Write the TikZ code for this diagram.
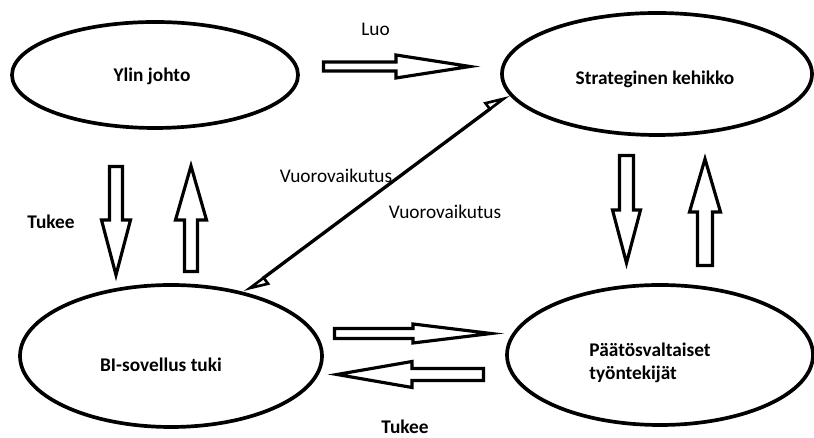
\documentclass[tikz,border=0pt]{standalone}
\usepackage{fontspec}
\setmainfont{Carlito}
\usetikzlibrary{shapes.geometric}
\usetikzlibrary{arrows.meta}

\tikzset{
	kupla/.style={ellipse, draw, line width=2.1pt, inner sep=0pt},
	nuoli/.style={draw, fill=white, line width=1.8pt, line join=miter},
	harppuuna/.tip={Triangle[open, left, length=0.44cm, width=0.36cm, fill=white, line width=1.5pt]},
	vuoro/.style={line width=1.9pt, harppuuna-harppuuna}
}

\begin{document}
\fontsize{11}{13}\selectfont
\begin{tikzpicture}
	\useasboundingbox (0,0) rectangle (16.28,8.76);
	
	%ellipses
	\node[kupla, minimum width=5.72cm, minimum height=2.12cm] (ylin_node) at (3.10,7.26) {};
	\node[kupla, minimum width=6.20cm, minimum height=2.44cm] (strat_node) at (13.14,7.28) {};
	\node[kupla, minimum width=6.04cm, minimum height=2.84cm] (bi_node) at (3.42,1.64) {};
	\node[kupla, minimum width=6.12cm, minimum height=2.80cm] (paatos_node) at (13.20,1.66) {};
	
	%ellipse texts
	\node (ylin_text) at (3.04,7.24) {\textbf{Ylin johto}};
	\node (strat_text) at (13.10,7.18) {\textbf{Strateginen kehikko}};
	\node (bi_text) at (3.22,1.46) {\textbf{BI-sovellus tuki}};
	\node[align=left] (paatos_text) at (13.00,1.50) {\textbf{Päätösvaltaiset}\\\textbf{työntekijät}};
	
	%block arrows: tail x/tail y/angle/length/head length/shaft half/head half
	\foreach \x/\y/\a/\len/\hl/\sw/\hw in {
		6.47/7.43/0/2.93/1.48/0.09/0.23,
		2.32/5.43/-90/2.17/1.10/0.13/0.29,
		3.82/3.33/90/2.11/1.08/0.13/0.31,
		12.53/5.65/-90/2.15/1.06/0.14/0.28,
		14.10/3.45/90/2.13/1.06/0.15/0.31,
		6.69/2.09/0/3.13/1.56/0.10/0.19,
		9.67/1.27/180/2.93/1.50/0.12/0.26} {
		\filldraw[nuoli, shift={(\x,\y)}, rotate=\a] (0,-\sw) -- (\len-\hl,-\sw) -- (\len-\hl,-\hw) -- (\len,0)
			-- (\len-\hl,\hw) -- (\len-\hl,\sw) -- (0,\sw) -- cycle;
	}
	
	%interaction line
	\draw[vuoro] (bi_node.41) -- (strat_node.188);
	
	%descriptions
	\node (luo_label) at (7.51,8.18) {Luo};
	\node (tukee_left) at (1.02,4.33) {\textbf{Tukee}};
	\node (vuoro_one) at (6.72,5.25) {Vuorovaikutus};
	\node (vuoro_two) at (8.90,4.52) {Vuorovaikutus};
	\node[anchor=base] (tukee_bottom) at (8.10,0.09) {\textbf{Tukee}};
\end{tikzpicture}
\end{document}
